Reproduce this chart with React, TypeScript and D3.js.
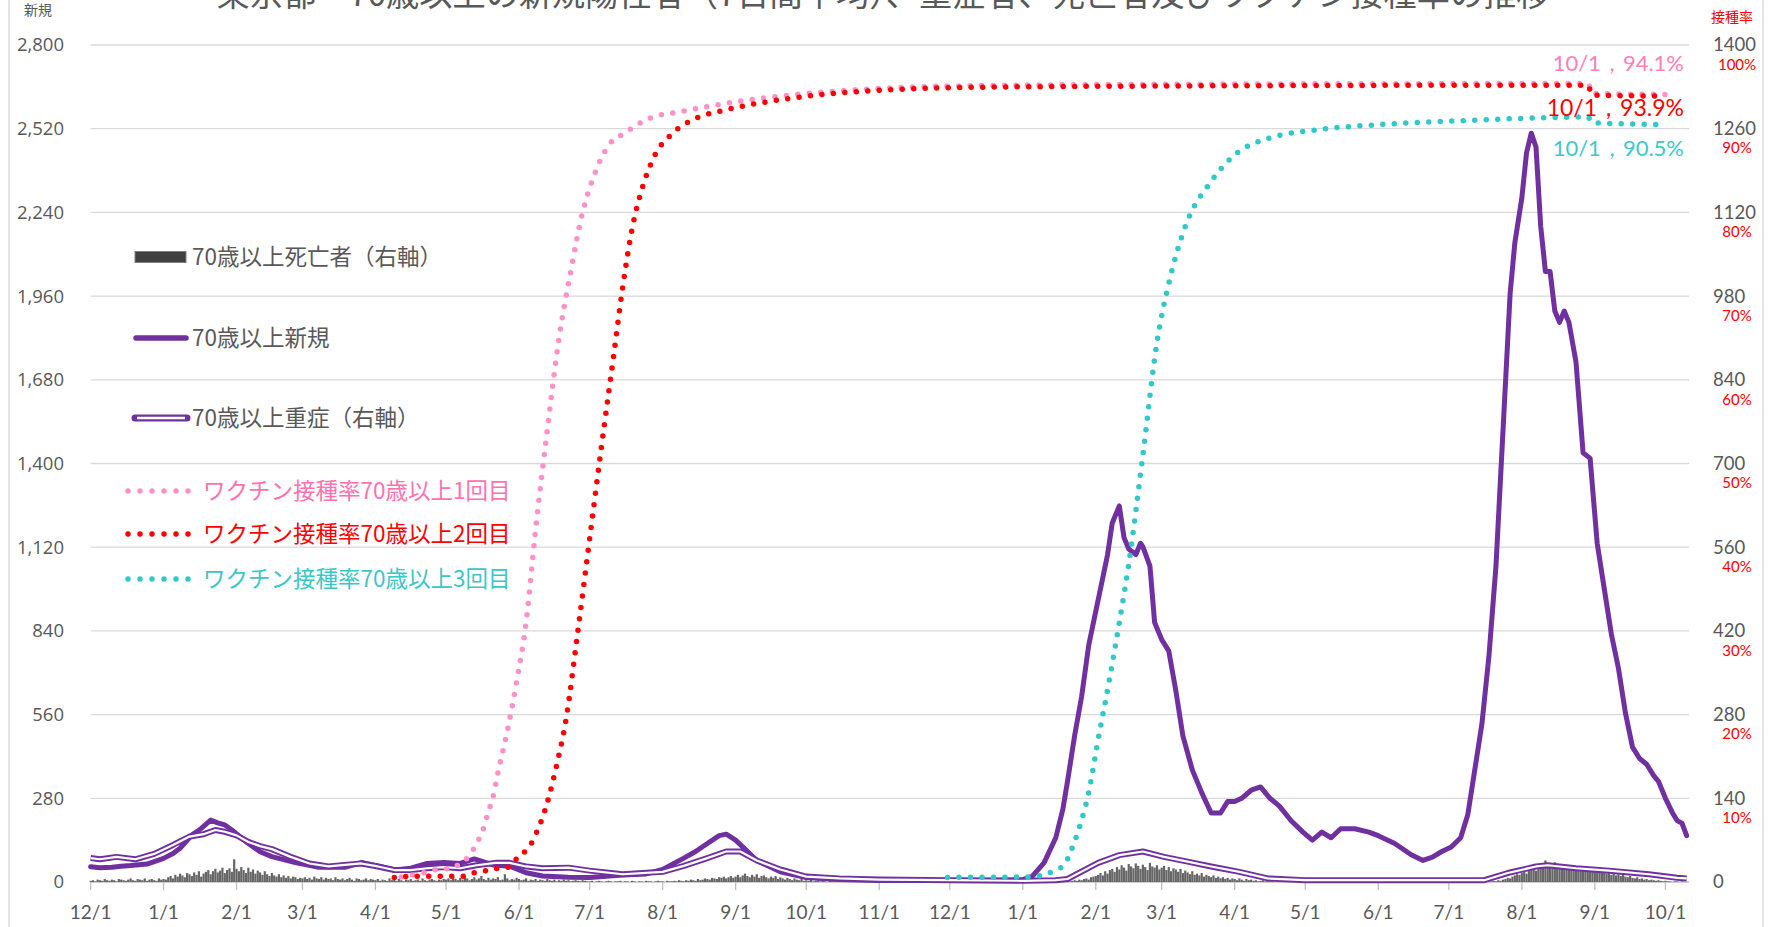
import React from "react";
import * as d3 from "d3";

const W = 1775;
const H = 927;
const PLOT_LEFT = 90.6;
const PLOT_RIGHT = 1689;
const PLOT_TOP = 45;
const PLOT_BOTTOM = 882;

const TITLE = "東京都・70歳以上の新規陽性者（7日間平均）、重症者、死亡者及びワクチン接種率の推移";

const monthTicks = [
  "2020-12-01", "2021-01-01", "2021-02-01", "2021-03-01", "2021-04-01", "2021-05-01",
  "2021-06-01", "2021-07-01", "2021-08-01", "2021-09-01", "2021-10-01", "2021-11-01",
  "2021-12-01", "2022-01-01", "2022-02-01", "2022-03-01", "2022-04-01", "2022-05-01",
  "2022-06-01", "2022-07-01", "2022-08-01", "2022-09-01", "2022-10-01",
];
const monthLabels = [
  "12/1", "1/1", "2/1", "3/1", "4/1", "5/1", "6/1", "7/1", "8/1", "9/1", "10/1", "11/1",
  "12/1", "1/1", "2/1", "3/1", "4/1", "5/1", "6/1", "7/1", "8/1", "9/1", "10/1",
];
const leftTicks = [0, 280, 560, 840, 1120, 1400, 1680, 1960, 2240, 2520, 2800];
const rightTicks = [0, 140, 280, 420, 560, 700, 840, 980, 1120, 1260, 1400];
const rightPctLabels = ["", "10%", "20%", "30%", "40%", "50%", "60%", "70%", "80%", "90%", "100%"];

// 70歳以上新規 (7日間平均) — left axis
const newCases: [string, number][] = [
  ["2020-12-01", 51], ["2020-12-05", 48], ["2020-12-10", 49], ["2020-12-14", 53], ["2020-12-18", 55],
  ["2020-12-25", 60], ["2021-01-01", 79], ["2021-01-05", 95], ["2021-01-08", 113], ["2021-01-13", 157],
  ["2021-01-17", 179], ["2021-01-21", 207], ["2021-01-24", 198], ["2021-01-27", 191], ["2021-01-30", 174],
  ["2021-02-05", 135], ["2021-02-11", 101], ["2021-02-16", 85], ["2021-02-26", 65], ["2021-03-08", 49],
  ["2021-03-19", 49], ["2021-03-26", 65], ["2021-04-02", 54], ["2021-04-09", 40], ["2021-04-16", 46],
  ["2021-04-23", 62], ["2021-04-30", 65], ["2021-05-07", 62], ["2021-05-13", 77], ["2021-05-21", 57],
  ["2021-05-28", 53], ["2021-06-04", 31], ["2021-06-11", 20], ["2021-06-22", 16], ["2021-07-01", 15],
  ["2021-07-15", 23], ["2021-07-25", 27], ["2021-08-01", 42], ["2021-08-10", 80], ["2021-08-15", 102],
  ["2021-08-20", 129], ["2021-08-25", 155], ["2021-08-28", 160], ["2021-09-01", 140], ["2021-09-05", 110],
  ["2021-09-10", 72], ["2021-09-20", 34], ["2021-10-01", 15], ["2021-10-15", 8], ["2021-11-01", 5],
  ["2021-12-01", 5], ["2021-12-20", 6], ["2022-01-01", 8], ["2022-01-05", 19], ["2022-01-10", 64],
  ["2022-01-15", 148], ["2022-01-18", 243], ["2022-01-20", 337], ["2022-01-23", 489], ["2022-01-26", 621],
  ["2022-01-29", 792], ["2022-02-01", 906], ["2022-02-03", 981], ["2022-02-06", 1095], ["2022-02-08", 1201],
  ["2022-02-10", 1239], ["2022-02-11", 1258], ["2022-02-13", 1152], ["2022-02-15", 1114], ["2022-02-18", 1095],
  ["2022-02-20", 1133], ["2022-02-21", 1122], ["2022-02-24", 1057], ["2022-02-26", 868], ["2022-03-01", 811],
  ["2022-03-04", 773], ["2022-03-07", 640], ["2022-03-10", 489], ["2022-03-14", 375], ["2022-03-18", 299],
  ["2022-03-22", 231], ["2022-03-26", 231], ["2022-03-29", 269], ["2022-04-01", 269], ["2022-04-04", 280],
  ["2022-04-08", 307], ["2022-04-12", 318], ["2022-04-16", 280], ["2022-04-20", 254], ["2022-04-25", 205],
  ["2022-04-30", 167], ["2022-05-04", 140], ["2022-05-08", 167], ["2022-05-12", 148], ["2022-05-16", 178],
  ["2022-05-22", 178], ["2022-05-28", 167], ["2022-06-01", 155], ["2022-06-08", 129], ["2022-06-15", 91],
  ["2022-06-20", 72], ["2022-06-24", 83], ["2022-06-28", 102], ["2022-07-02", 117], ["2022-07-06", 148],
  ["2022-07-09", 224], ["2022-07-12", 375], ["2022-07-15", 527], ["2022-07-18", 754], ["2022-07-21", 1057],
  ["2022-07-24", 1512], ["2022-07-27", 1967], ["2022-07-29", 2137], ["2022-08-01", 2289], ["2022-08-03", 2440],
  ["2022-08-05", 2505], ["2022-08-07", 2459], ["2022-08-09", 2194], ["2022-08-11", 2042], ["2022-08-13", 2042],
  ["2022-08-15", 1910], ["2022-08-17", 1872], ["2022-08-19", 1910], ["2022-08-21", 1872], ["2022-08-24", 1739],
  ["2022-08-27", 1436], ["2022-08-30", 1417], ["2022-09-02", 1133], ["2022-09-05", 981], ["2022-09-08", 830],
  ["2022-09-11", 716], ["2022-09-14", 565], ["2022-09-17", 451], ["2022-09-20", 413], ["2022-09-23", 394],
  ["2022-09-26", 356], ["2022-09-28", 337], ["2022-10-01", 280], ["2022-10-04", 231], ["2022-10-06", 205],
  ["2022-10-08", 197], ["2022-10-10", 155],
];

// 70歳以上重症 — right axis
const severe: [string, number][] = [
  ["2020-12-01", 40], ["2020-12-05", 38], ["2020-12-12", 42], ["2020-12-20", 38], ["2020-12-28", 47],
  ["2021-01-05", 62], ["2021-01-12", 76], ["2021-01-18", 80], ["2021-01-23", 87], ["2021-01-27", 84],
  ["2021-02-01", 78], ["2021-02-06", 67], ["2021-02-11", 60], ["2021-02-16", 55], ["2021-02-24", 42],
  ["2021-03-04", 31], ["2021-03-12", 26], ["2021-03-26", 31], ["2021-04-02", 26], ["2021-04-09", 20],
  ["2021-04-16", 20], ["2021-04-23", 23], ["2021-04-30", 25], ["2021-05-07", 23], ["2021-05-14", 28],
  ["2021-05-22", 32], ["2021-05-28", 32], ["2021-06-04", 26], ["2021-06-11", 23], ["2021-06-22", 24],
  ["2021-07-01", 19], ["2021-07-15", 13], ["2021-08-01", 17], ["2021-08-10", 27], ["2021-08-20", 40],
  ["2021-08-28", 51], ["2021-09-03", 51], ["2021-09-10", 36], ["2021-09-20", 21], ["2021-10-01", 9],
  ["2021-10-15", 6], ["2021-11-01", 4], ["2021-12-01", 3], ["2022-01-01", 2], ["2022-01-15", 3],
  ["2022-01-20", 5], ["2022-02-02", 32], ["2022-02-11", 45], ["2022-02-21", 51], ["2022-03-02", 42],
  ["2022-03-12", 34], ["2022-03-22", 26], ["2022-04-03", 17], ["2022-04-15", 6], ["2022-05-01", 3],
  ["2022-07-16", 3], ["2022-07-26", 15], ["2022-08-07", 26], ["2022-08-12", 28], ["2022-08-24", 23],
  ["2022-09-07", 19], ["2022-09-24", 13], ["2022-10-06", 7], ["2022-10-10", 6],
];

// ワクチン接種率 (%)
const vaccine1: [string, number][] = [
  ["2021-04-12", 0.6], ["2021-04-23", 1.2], ["2021-04-27", 1.5], ["2021-05-02", 1.6], ["2021-05-07", 2.2],
  ["2021-05-11", 3.2], ["2021-05-14", 4.6], ["2021-05-17", 6.5], ["2021-05-19", 8.4], ["2021-05-21", 10.2],
  ["2021-05-23", 13], ["2021-05-27", 18], ["2021-05-31", 24], ["2021-06-04", 31], ["2021-06-08", 42],
  ["2021-06-13", 54], ["2021-06-18", 65], ["2021-06-23", 73], ["2021-06-28", 80], ["2021-07-03", 84.5],
  ["2021-07-09", 88], ["2021-07-16", 89.5], ["2021-07-26", 91.2], ["2021-08-10", 92.1], ["2021-09-03", 93.3],
  ["2021-10-01", 94.2], ["2021-11-01", 94.8], ["2021-12-01", 95.1], ["2022-03-01", 95.3], ["2022-08-29", 95.4],
  ["2022-08-31", 94.2], ["2022-10-01", 94.1],
];
const vaccine2: [string, number][] = [
  ["2021-04-09", 0.55], ["2021-04-19", 0.7], ["2021-05-09", 0.7], ["2021-05-13", 1.1], ["2021-05-18", 1.35],
  ["2021-05-22", 1.6], ["2021-05-28", 1.8], ["2021-05-31", 2.8], ["2021-06-04", 3.8], ["2021-06-07", 5.0],
  ["2021-06-09", 6.3], ["2021-06-11", 7.7], ["2021-06-13", 9.5], ["2021-06-17", 14], ["2021-06-21", 19.5],
  ["2021-06-26", 30], ["2021-07-01", 41], ["2021-07-06", 52], ["2021-07-11", 62.5], ["2021-07-15", 71],
  ["2021-07-19", 78], ["2021-07-24", 83.5], ["2021-07-29", 87], ["2021-08-05", 89.4], ["2021-08-14", 91.1],
  ["2021-08-27", 92.2], ["2021-09-14", 93.2], ["2021-10-05", 94], ["2021-11-02", 94.6], ["2021-12-01", 94.9],
  ["2022-03-01", 95.1], ["2022-08-29", 95.2], ["2022-08-31", 94.0], ["2022-10-01", 93.9],
];
const vaccine3: [string, number][] = [
  ["2021-11-30", 0.55], ["2022-01-05", 0.6], ["2022-01-10", 0.9], ["2022-01-14", 1.3], ["2022-01-19", 2.2],
  ["2022-01-21", 3.4], ["2022-01-25", 6.5], ["2022-01-29", 10.7], ["2022-02-02", 17], ["2022-02-07", 24.5],
  ["2022-02-11", 31], ["2022-02-15", 38], ["2022-02-21", 51], ["2022-02-27", 64.5], ["2022-03-04", 71.5],
  ["2022-03-11", 78.3], ["2022-03-22", 83.7], ["2022-04-02", 87.1], ["2022-04-16", 88.9], ["2022-05-04", 89.8],
  ["2022-06-02", 90.5], ["2022-07-11", 91], ["2022-08-29", 91.4], ["2022-08-31", 90.7], ["2022-10-01", 90.5],
];

// 70歳以上死亡者 (daily, right axis), starting 2020-12-01
const deathsStart = "2020-12-01";
const deathsDaily: number[] = [
  // 2020-12
  2, 3, 1, 4, 3, 2, 5, 3, 2, 4, 3, 1, 5, 4, 3, 2, 4, 6, 3, 2, 5, 4, 3, 6, 2, 4, 5, 3, 2, 6, 4,
  // 2021-01
  5, 4, 8, 10, 6, 12, 9, 14, 11, 8, 15, 13, 10, 16, 12, 18, 9, 14, 17, 20, 13, 18, 22, 16, 19, 24, 15, 20, 23, 17, 38,
  // 2021-02
  22, 18, 25, 20, 15, 24, 17, 21, 14, 19, 16, 12, 18, 13, 10, 15, 11, 9, 13, 8, 11, 7, 10, 6, 9, 8, 5, 7,
  // 2021-03
  6, 8, 5, 7, 4, 9, 6, 5, 8, 4, 7, 5, 6, 3, 8, 5, 4, 6, 3, 5, 7, 4, 2, 6, 5, 3, 4, 6, 3, 5, 4,
  // 2021-04
  3, 5, 2, 4, 3, 2, 6, 3, 4, 2, 5, 3, 1, 4, 3, 5, 2, 3, 4, 2, 6, 3, 2, 4, 5, 3, 2, 4, 3, 5,
  // 2021-05
  4, 6, 3, 8, 5, 3, 7, 4, 9, 6, 3, 5, 8, 4, 6, 10, 5, 3, 7, 4, 6, 5, 8, 3, 4, 13, 6, 3, 5, 4, 7,
  // 2021-06
  5, 3, 4, 6, 2, 4, 3, 5, 2, 4, 3, 2, 5, 3, 2, 4, 1, 3, 2, 4, 2, 3, 1, 2, 3, 2, 1, 3, 2, 1,
  // 2021-07
  1, 2, 0, 1, 2, 1, 0, 1, 2, 1, 0, 1, 1, 2, 0, 1, 1, 0, 2, 1, 0, 1, 1, 0, 2, 1, 1, 0, 1, 2, 1,
  // 2021-08
  1, 0, 2, 1, 1, 2, 1, 3, 2, 1, 3, 2, 4, 3, 2, 5, 3, 4, 6, 5, 4, 7, 6, 5, 8, 7, 9, 6, 8, 10, 7,
  // 2021-09
  9, 12, 8, 11, 14, 10, 8, 12, 9, 13, 7, 10, 11, 8, 6, 9, 7, 10, 5, 8, 6, 4, 7, 5, 3, 6, 4, 3, 5, 2,
  // 2021-10
  3, 2, 4, 1, 2, 3, 1, 2, 1, 0, 2, 1, 1, 0, 1, 1, 0, 1, 0, 1, 0, 0, 1, 0, 1, 0, 0, 1, 0, 0, 1,
  // 2021-11
  0, 0, 1, 0, 0, 0, 1, 0, 0, 0, 0, 1, 0, 0, 0, 0, 0, 1, 0, 0, 0, 0, 0, 0, 1, 0, 0, 0, 0, 0,
  // 2021-12
  0, 0, 0, 0, 1, 0, 0, 0, 0, 0, 0, 0, 0, 1, 0, 0, 0, 0, 0, 0, 0, 0, 0, 1, 0, 0, 0, 0, 0, 0, 0,
  // 2022-01
  0, 0, 0, 0, 0, 0, 0, 0, 0, 0, 1, 0, 0, 0, 1, 0, 1, 0, 1, 2, 1, 2, 3, 2, 4, 3, 5, 6, 4, 8, 9,
  // 2022-02
  10, 12, 15, 11, 18, 14, 20, 22, 17, 25, 21, 28, 24, 19, 30, 26, 23, 31, 27, 22, 29, 25, 20, 32, 26, 24, 28, 21,
  // 2022-03
  24, 27, 20, 25, 18, 23, 21, 17, 22, 15, 19, 16, 13, 18, 12, 14, 11, 15, 9, 12, 10, 8, 11, 7, 9, 6, 8, 5, 7, 4, 6,
  // 2022-04
  5, 3, 6, 4, 2, 5, 3, 4, 2, 3, 1, 2, 3, 1, 2, 1, 2, 0, 1, 2, 1, 0, 1, 1, 0, 1, 0, 1, 0, 1,
  // 2022-05
  0, 1, 0, 0, 1, 0, 0, 1, 0, 0, 0, 1, 0, 0, 0, 1, 0, 0, 0, 0, 1, 0, 0, 0, 0, 1, 0, 0, 0, 0, 0,
  // 2022-06
  0, 0, 0, 0, 1, 0, 0, 0, 0, 0, 0, 0, 1, 0, 0, 0, 0, 0, 0, 0, 0, 0, 0, 0, 0, 0, 0, 1, 0, 0,
  // 2022-07
  0, 0, 0, 0, 1, 0, 0, 0, 0, 1, 0, 0, 0, 1, 0, 1, 0, 1, 1, 2, 1, 3, 2, 4, 5, 7, 6, 9, 11, 13, 12,
  // 2022-08
  15, 18, 14, 22, 20, 25, 19, 28, 24, 30, 36, 26, 31, 27, 33, 29, 25, 30, 28, 24, 27, 22, 26, 21, 24, 20, 23, 19, 22, 18, 20,
  // 2022-09
  21, 17, 19, 15, 18, 14, 16, 12, 15, 11, 13, 10, 12, 9, 8, 10, 7, 6, 8, 5, 6, 4, 5, 3, 4, 3, 2, 3, 2, 1,
  // 2022-10
  2, 1, 1, 0, 1, 1, 0, 1, 0, 0,
];

const legendItems = [
  { label: "70歳以上死亡者（右軸）", kind: "bar", color: "#595959" },
  { label: "70歳以上新規", kind: "thick", color: "#595959" },
  { label: "70歳以上重症（右軸）", kind: "double", color: "#595959" },
  { label: "ワクチン接種率70歳以上1回目", kind: "dot1", color: "#FF72AE" },
  { label: "ワクチン接種率70歳以上2回目", kind: "dot2", color: "#FF0000" },
  { label: "ワクチン接種率70歳以上3回目", kind: "dot3", color: "#3CC6C6" },
];

const annotations = [
  { text: "10/1，94.1%", color: "#FF80B5" },
  { text: "10/1，93.9%", color: "#FF0000" },
  { text: "10/1，90.5%", color: "#40C8C8" },
];

const PURPLE = "#7030A0";
const PINK = "#FF91C8";
const RED = "#FF0000";
const TEAL = "#30C8C8";
const GRID = "#D9D9D9";
const TEXT = "#595959";
const NUM_FONT = "Lato, 'Noto Sans', sans-serif";
const JP_FONT = "'Noto Sans CJK JP', 'Noto Sans', sans-serif";

const parse = (s: string) => {
  const [y, m, d] = s.split("-").map(Number);
  return new Date(Date.UTC(y, m - 1, d));
};

export default function App() {
  const x = d3.scaleUtc().domain([parse("2020-12-01"), parse("2022-10-11")]).range([PLOT_LEFT, PLOT_RIGHT]);
  const yL = d3.scaleLinear().domain([0, 2800]).range([PLOT_BOTTOM, PLOT_TOP]);
  const yR = d3.scaleLinear().domain([0, 1400]).range([PLOT_BOTTOM, PLOT_TOP]);
  const yP = d3.scaleLinear().domain([0, 100]).range([PLOT_BOTTOM, PLOT_TOP]);

  const lineL = d3.line<[string, number]>().x((d) => x(parse(d[0]))).y((d) => yL(d[1]));
  const lineR = d3.line<[string, number]>().x((d) => x(parse(d[0]))).y((d) => yR(d[1]));
  const lineP = d3
    .line<[string, number]>()
    .x((d) => x(parse(d[0])))
    .y((d) => yP(d[1]))
    .curve(d3.curveMonotoneX);

  const start = parse(deathsStart);
  const barW = 2.2;

  const legendY = [257, 338, 418, 491, 534, 579];
  const annY = [63, 108, 148];

  return (
    <div style={{ position: "absolute", left: 0, top: 0, width: W, height: H, overflow: "hidden", background: "#fff" }}>
      <svg width={W} height={H} style={{ display: "block" }}>
        <rect x={0} y={0} width={W} height={H} fill="#fff" />
        {/* frame */}
        <line x1={9} x2={9} y1={0} y2={H} stroke={GRID} strokeWidth={1.3} />
        <line x1={1763} x2={1763} y1={0} y2={H} stroke={GRID} strokeWidth={1.3} />

        {/* title (cut off at top, as in the reference) */}
        <text x={883} y={6} textAnchor="middle" fontFamily={JP_FONT} fontSize={33.2} fill={TEXT}>
          {TITLE}
        </text>

        {/* gridlines */}
        {leftTicks.slice(1).map((t) => (
          <line key={t} x1={PLOT_LEFT} x2={PLOT_RIGHT} y1={yL(t)} y2={yL(t)} stroke={GRID} strokeWidth={1.3} />
        ))}
        <line x1={PLOT_LEFT} x2={PLOT_RIGHT} y1={PLOT_BOTTOM} y2={PLOT_BOTTOM} stroke="#BFBFBF" strokeWidth={1.3} />
        {monthTicks.map((m) => (
          <line key={m} x1={x(parse(m))} x2={x(parse(m))} y1={PLOT_BOTTOM} y2={PLOT_BOTTOM + 8} stroke="#BFBFBF" strokeWidth={1.3} />
        ))}

        {/* axis titles */}
        <text x={38} y={15} textAnchor="middle" fontFamily={JP_FONT} fontSize={14} fill={TEXT}>新規</text>
        <text x={1732} y={22} textAnchor="middle" fontFamily={JP_FONT} fontSize={14} fill={RED}>接種率</text>

        {/* left axis labels */}
        {leftTicks.map((t) => (
          <text key={t} x={64} y={yL(t)} dy="0.35em" textAnchor="end" fontFamily="'Open Sans', sans-serif" fontSize={18.5} fill={TEXT}>
            {d3.format(",")(t)}
          </text>
        ))}
        {/* right axis labels */}
        {rightTicks.map((t, i) => (
          <g key={t}>
            <text x={1713} y={yR(t)} dy="0.35em" fontFamily={NUM_FONT} fontSize={18.5} fill={TEXT}>
              {t}
            </text>
            {rightPctLabels[i] && (
              <text x={1737} y={yR(t) + 19.5} dy="0.35em" textAnchor="middle" fontFamily={NUM_FONT} fontSize={15} fill={RED}>
                {rightPctLabels[i]}
              </text>
            )}
          </g>
        ))}
        {/* x labels */}
        {monthTicks.map((m, i) => (
          <text key={m + i} x={x(parse(m))} y={912} dy="0.35em" textAnchor="middle" fontFamily={NUM_FONT} fontSize={19} fill={TEXT}>
            {monthLabels[i]}
          </text>
        ))}

        {/* deaths bars */}
        {deathsDaily.map((v, i) => {
          const dt = d3.utcDay.offset(start, i);
          const y0 = yR(v);
          return v > 0 ? (
            <rect key={i} x={x(dt) - barW / 2} y={y0} width={barW} height={PLOT_BOTTOM - y0} fill="#666666" />
          ) : null;
        })}

        {/* new cases (thick) */}
        <path d={lineL(newCases) || ""} fill="none" stroke={PURPLE} strokeWidth={5} strokeLinejoin="round" strokeLinecap="round" />
        {/* severe (double) */}
        <path d={lineR(severe) || ""} fill="none" stroke={PURPLE} strokeWidth={6} strokeLinejoin="round" />
        <path d={lineR(severe) || ""} fill="none" stroke="#fff" strokeWidth={2.2} strokeLinejoin="round" />

        {/* vaccines */}
        <path d={lineP(vaccine1) || ""} fill="none" stroke={PINK} strokeWidth={5.5} strokeLinecap="round" strokeDasharray="0 11.5" />
        <path d={lineP(vaccine2) || ""} fill="none" stroke={RED} strokeWidth={5.5} strokeLinecap="round" strokeDasharray="0 11.5" />
        <path d={lineP(vaccine3) || ""} fill="none" stroke={TEAL} strokeWidth={5.5} strokeLinecap="round" strokeDasharray="0 11.5" />

        {/* annotations */}
        {annotations.map((a, i) => (
          <text key={i} x={1684} y={annY[i]} dy="0.35em" textAnchor="end" fontFamily={NUM_FONT} fontSize={i === 1 ? 23 : 22} fill={a.color}>
            {a.text}
          </text>
        ))}

        {/* legend */}
        {legendItems.map((it, i) => {
          const y = legendY[i];
          const isDot = it.kind.startsWith("dot");
          let swatch: React.ReactNode = null;
          if (it.kind === "bar") {
            swatch = <rect x={135} y={y - 5.5} width={51} height={11} fill="#404040" stroke="#7F7F7F" strokeWidth={1} />;
          } else if (it.kind === "thick") {
            swatch = <line x1={136} x2={186} y1={y} y2={y} stroke={PURPLE} strokeWidth={5.5} strokeLinecap="round" />;
          } else if (it.kind === "double") {
            swatch = (
              <g>
                <line x1={135} x2={187} y1={y} y2={y} stroke={PURPLE} strokeWidth={7} strokeLinecap="round" />
                <line x1={137} x2={185} y1={y} y2={y} stroke="#fff" strokeWidth={2.5} />
              </g>
            );
          } else {
            const c = it.kind === "dot1" ? PINK : it.kind === "dot2" ? RED : TEAL;
            swatch = <line x1={128} x2={189} y1={y} y2={y} stroke={c} strokeWidth={5.5} strokeLinecap="round" strokeDasharray="0 12" />;
          }
          return (
            <g key={i}>
              {swatch}
              <text x={isDot ? 203 : 192} y={y} dy="0.36em" fontFamily={JP_FONT} fontSize={22.5} fill={it.color}>
                {it.label}
              </text>
            </g>
          );
        })}
      </svg>
    </div>
  );
}
